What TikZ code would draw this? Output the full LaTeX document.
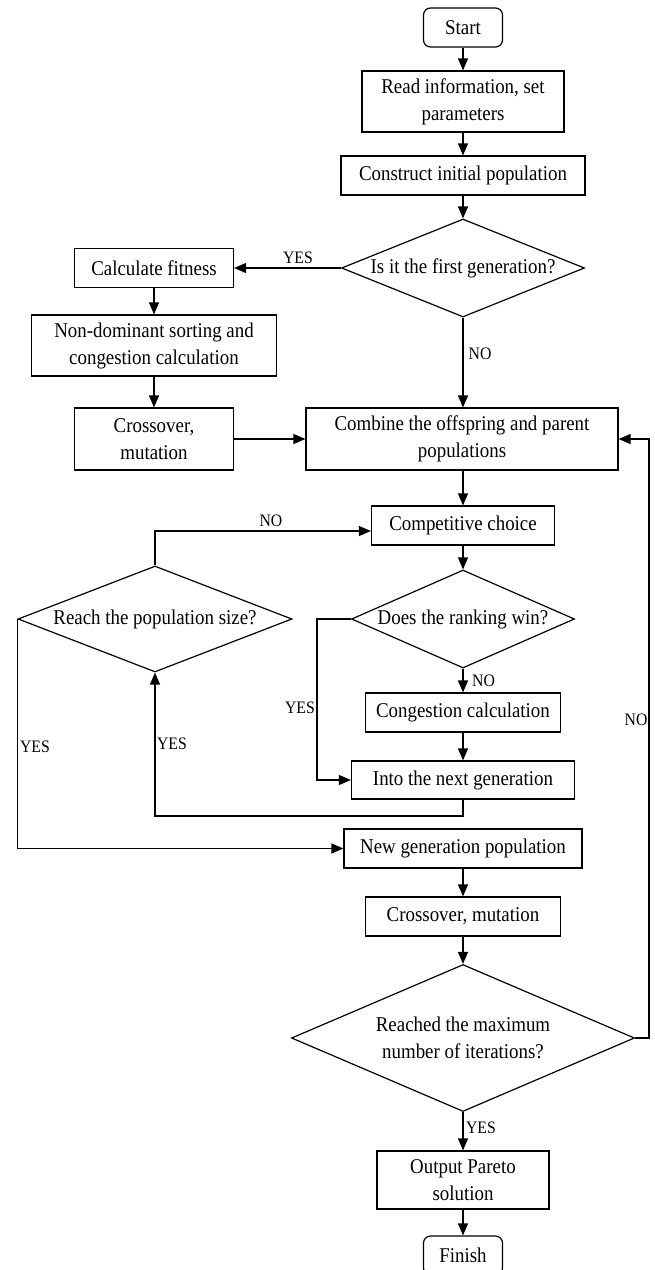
\documentclass[tikz,border=0pt]{standalone}
\usepackage{fontspec}
\setmainfont{Liberation Serif}[FakeStretch=0.9]
\usetikzlibrary{shapes.geometric,arrows.meta,calc}
\begin{document}
\begin{tikzpicture}[x=1pt,y=-1pt,
  box/.style={draw,line width=1.2pt,rectangle,inner sep=0pt,align=center,font=\fontsize{21}{27}\selectfont},
  term/.style={box,rounded corners=7pt},
  dia/.style={draw,line width=1.2pt,diamond,inner sep=0pt},
  txt/.style={inner sep=0pt,align=center,font=\fontsize{21}{27}\selectfont},
  lab/.style={inner sep=0pt,font=\fontsize{17.5}{20}\selectfont},
  arr/.style={line width=1.2pt,-{Triangle[length=12pt,width=10pt]}},
  ln/.style={line width=1.2pt}]
\useasboundingbox (0,0) rectangle (654,1270);
\clip (0,0) rectangle (654,1270);
% nodes
\node[term,minimum width=79pt,minimum height=39pt] (start) at (463,27.5) {Start};
\node[box,minimum width=202pt,minimum height=61pt] (read) at (463,101.5) {Read information, set\\parameters};
\node[box,minimum width=244pt,minimum height=39pt] (cons) at (463,175.5) {Construct initial population};
\node[dia,minimum width=243pt,minimum height=98pt] (d1) at (463,268) {};
\node[txt] (d1t) at (d1) {Is it the first generation?};
\node[box,minimum width=159pt,minimum height=39pt] (fit) at (154,268) {Calculate fitness};
\node[box,minimum width=245pt,minimum height=61pt] (nds) at (154,345.5) {Non-dominant sorting and\\congestion calculation};
\node[box,minimum width=159pt,minimum height=62pt] (cx1) at (154,439) {Crossover,\\mutation};
\node[box,minimum width=312pt,minimum height=62pt] (comb) at (462,439) {Combine the offspring and parent\\populations};
\node[box,minimum width=183pt,minimum height=39pt] (comp) at (463,525.5) {Competitive choice};
\node[dia,minimum width=223pt,minimum height=98pt] (d2) at (463,619) {};
\node[txt] (d2t) at (d2) {Does the ranking win?};
\node[dia,minimum width=274pt,minimum height=106pt] (d3) at (155,619) {};
\node[txt] (d3t) at (d3) {Reach the population size?};
\node[box,minimum width=195pt,minimum height=39pt] (cong) at (463,712.5) {Congestion calculation};
\node[box,minimum width=223pt,minimum height=38pt] (into) at (463,780) {Into the next generation};
\node[box,minimum width=238pt,minimum height=39pt] (newg) at (463,848.5) {New generation population};
\node[box,minimum width=195pt,minimum height=39pt] (cx2) at (463,916.5) {Crossover, mutation};
\node[dia,minimum width=343pt,minimum height=147pt] (d4) at (463,1038) {};
\node[txt] (d4t) at (d4) {Reached the maximum\\number of iterations?};
\node[box,minimum width=172pt,minimum height=58pt] (out) at (463,1180) {Output Pareto\\solution};
\node[term,minimum width=79pt,minimum height=39pt] (fin) at (463,1255.5) {Finish};
% helper coordinates
\coordinate (cyin) at ($(comp.west)+(0,5.5)$);
\coordinate (yl) at (317,619);
\coordinate (lb) at (463,816);
\coordinate (rr) at (649,1038);
% connectors
\draw[arr] (start) -- (read);
\draw[arr] (read) -- (cons);
\draw[arr] (cons) -- (d1);
\draw[arr] (d1.west) -- (fit.east);
\draw[arr] (fit) -- (nds);
\draw[arr] (nds) -- (cx1);
\draw[arr] (cx1.east) -- (comb.west);
\draw[arr] (d1.south) -- (d1.south |- comb.north);
\draw[arr] (comb.south -| comp) -- (comp);
\draw[arr] (d3.north) |- (cyin);
\draw[arr] (comp) -- (d2);
\draw[arr] (d2.south) -- (d2.south |- cong.north);
\draw[arr] (cong) -- (into);
\draw[arr] (d2.west) -- (yl) |- (into.west);
\draw[arr] (into.south) -- (lb) -| (d3.south);
\draw[arr] (d3.west) |- (newg.west);
\draw[arr] (newg) -- (cx2);
\draw[arr] (cx2) -- (d4);
\draw[arr] (d4) -- (out);
\draw[arr] (out) -- (fin);
\draw[arr] (d4.east) -- (rr) |- (comb.east);
% labels
\node[lab] (l1) at (298,258) {YES};
\node[lab] (l2) at (480,354) {NO};
\node[lab] (l3) at (271,521) {NO};
\node[lab] (l4) at (483.5,681) {NO};
\node[lab] (l5) at (300,708) {YES};
\node[lab] (l6) at (172,744) {YES};
\node[lab] (l7) at (35,747) {YES};
\node[lab] (l8) at (636,720) {NO};
\node[lab] (l9) at (481,1128) {YES};
\end{tikzpicture}
\end{document}
